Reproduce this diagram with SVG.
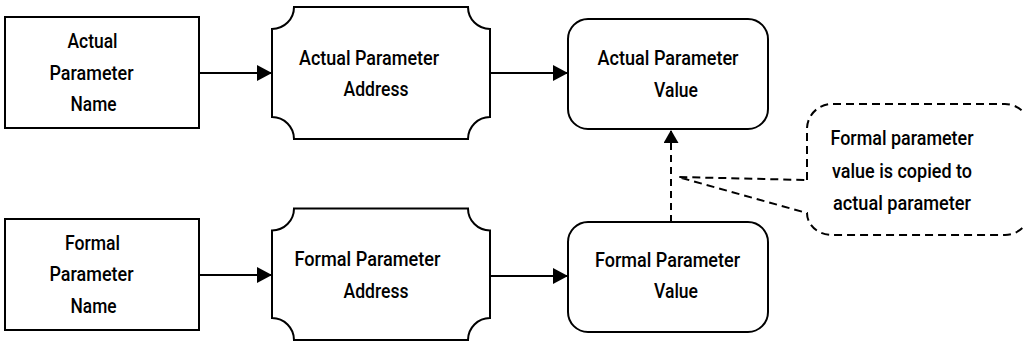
<svg xmlns="http://www.w3.org/2000/svg" width="1023" height="341" viewBox="0 0 1023 341">
<style>
.shape{fill:#fff;stroke:#000;stroke-width:2}
.lbl{font-family:Roboto,"Liberation Sans",Arial,sans-serif;font-weight:500;font-size:20.5px;fill:#000;text-anchor:middle}
.edge{stroke:#000;stroke-width:2;fill:none}
.dash{stroke-dasharray:7 5}
.cdash{fill:#fff;stroke:#000;stroke-width:2;stroke-dasharray:8 5}
</style>
<defs>
<marker id="ah" viewBox="0 0 15 16" refX="15" refY="8" markerWidth="15" markerHeight="16" markerUnits="userSpaceOnUse" orient="auto"><path d="M0,0 L15,8 L0,16 Z" fill="#000"/></marker>
<marker id="ahs" viewBox="0 0 13 15" refX="13" refY="7.5" markerWidth="13" markerHeight="15" markerUnits="userSpaceOnUse" orient="auto"><path d="M0,0 L13,7.5 L0,15 Z" fill="#000"/></marker>
</defs>
<g id="connectors">
<line class="edge" x1="199" y1="73" x2="272" y2="73" marker-end="url(#ah)"/>
<line class="edge" x1="490" y1="73" x2="568" y2="73" marker-end="url(#ah)"/>
<line class="edge" x1="199" y1="275" x2="272" y2="275" marker-end="url(#ah)"/>
<line class="edge" x1="490" y1="276" x2="568" y2="276" marker-end="url(#ah)"/>
<line class="edge dash" x1="671" y1="222" x2="671" y2="130" marker-end="url(#ahs)"/>
</g>
<g id="actual-name">
<rect class="shape" x="5" y="17" width="194" height="111"/>
<text class="lbl" x="92.5" y="47.5" textLength="50" lengthAdjust="spacingAndGlyphs">Actual</text>
<text class="lbl" x="91.5" y="79.5" textLength="84" lengthAdjust="spacingAndGlyphs">Parameter</text>
<text class="lbl" x="93.5" y="111" textLength="46" lengthAdjust="spacingAndGlyphs">Name</text>
</g>
<g id="actual-address">
<path class="shape" d="M294 7 H468 A22 22 0 0 0 490 29 V117 A22 22 0 0 0 468 139 H294 A22 22 0 0 0 272 117 V29 A22 22 0 0 0 294 7 Z"/>
<text class="lbl" x="369" y="64.5" textLength="140" lengthAdjust="spacingAndGlyphs">Actual Parameter</text>
<text class="lbl" x="376" y="96" textLength="65" lengthAdjust="spacingAndGlyphs">Address</text>
</g>
<g id="actual-value">
<rect class="shape" x="568" y="19" width="200" height="110" rx="20"/>
<text class="lbl" x="668" y="65" textLength="141" lengthAdjust="spacingAndGlyphs">Actual Parameter</text>
<text class="lbl" x="676" y="96.5" textLength="44" lengthAdjust="spacingAndGlyphs">Value</text>
</g>
<g id="formal-name">
<rect class="shape" x="5" y="219" width="194" height="111"/>
<text class="lbl" x="92.5" y="249.5" textLength="55" lengthAdjust="spacingAndGlyphs">Formal</text>
<text class="lbl" x="91.5" y="281" textLength="84" lengthAdjust="spacingAndGlyphs">Parameter</text>
<text class="lbl" x="93.5" y="313" textLength="46" lengthAdjust="spacingAndGlyphs">Name</text>
</g>
<g id="formal-address">
<path class="shape" d="M294 208.5 H468 A22 22 0 0 0 490 230.5 V318 A22 22 0 0 0 468 340 H294 A22 22 0 0 0 272 318 V230.5 A22 22 0 0 0 294 208.5 Z"/>
<text class="lbl" x="367.5" y="266" textLength="146" lengthAdjust="spacingAndGlyphs">Formal Parameter</text>
<text class="lbl" x="376" y="297.5" textLength="65" lengthAdjust="spacingAndGlyphs">Address</text>
</g>
<g id="formal-value">
<rect class="shape" x="568" y="222" width="200" height="110" rx="20"/>
<text class="lbl" x="667.5" y="266.5" textLength="145" lengthAdjust="spacingAndGlyphs">Formal Parameter</text>
<text class="lbl" x="676" y="297.5" textLength="44" lengthAdjust="spacingAndGlyphs">Value</text>
</g>
<g id="callout">
<path class="cdash" d="M807 180 V129 A25 25 0 0 1 832 104 H1005 A25 25 0 0 1 1030 129 V210 A25 25 0 0 1 1005 235 H832 A25 22 0 0 1 807 213 L678 177 Z"/>
<text class="lbl" x="902" y="145" textLength="143" lengthAdjust="spacingAndGlyphs">Formal parameter</text>
<text class="lbl" x="902" y="177.5" textLength="140" lengthAdjust="spacingAndGlyphs">value is copied to</text>
<text class="lbl" x="902" y="210" textLength="138" lengthAdjust="spacingAndGlyphs">actual parameter</text>
</g>
</svg>
